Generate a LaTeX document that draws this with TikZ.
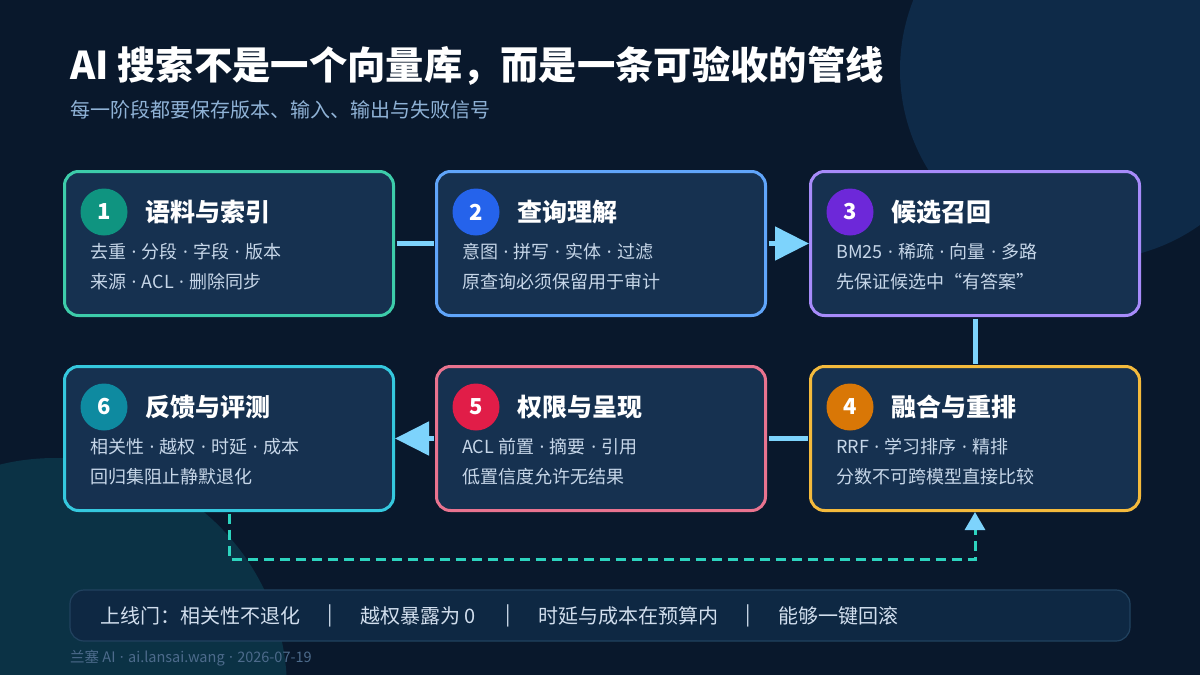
\documentclass[tikz,border=0pt]{standalone}
\usepackage{fontspec}
\setmainfont{Noto Sans CJK SC}
\newfontfamily\dotfont{Noto Sans}
\newcommand\md{{\dotfont\hspace{0.3em}·\hspace{0.3em}}}
\usetikzlibrary{positioning,arrows.meta,calc}
\definecolor{bgc}{HTML}{09182C}
\definecolor{blobA}{HTML}{0E2A48}
\definecolor{blobB}{HTML}{0B3245}
\definecolor{cardc}{HTML}{163150}
\definecolor{subc}{HTML}{C6D6E8}
\definecolor{dimc}{HTML}{8FB2D6}
\definecolor{linkc}{HTML}{7DD3FC}
\definecolor{fbc}{HTML}{2DD4BF}
\definecolor{barc}{HTML}{0E2843}
\definecolor{barline}{HTML}{21425F}
\definecolor{footc}{HTML}{4D6B8C}
% card borders / badges
\definecolor{bdA}{HTML}{3DCCAA}\definecolor{bgA}{HTML}{0F9480}
\definecolor{bdB}{HTML}{60A5FA}\definecolor{bgB}{HTML}{2563EB}
\definecolor{bdC}{HTML}{A78BFA}\definecolor{bgC}{HTML}{6D28D9}
\definecolor{bdD}{HTML}{F4BA3C}\definecolor{bgD}{HTML}{D97706}
\definecolor{bdE}{HTML}{E9738F}\definecolor{bgE}{HTML}{E11D48}
\definecolor{bdF}{HTML}{35C8DE}\definecolor{bgF}{HTML}{0E8AA0}
\tikzset{
  card/.style={draw=#1,line width=3pt,fill=cardc,rounded corners=14pt,
    minimum width=329pt,minimum height=144pt,anchor=north west,inner sep=0pt},
  badge/.style={circle,fill=#1,minimum size=47pt,inner sep=0pt,text=white,
    font=\fontsize{22}{26}\selectfont\bfseries},
  ttl/.style={anchor=west,inner sep=0pt,text=white,font=\fontsize{25}{30}\selectfont\bfseries},
  sub/.style={anchor=west,inner sep=0pt,text=subc,font=\fontsize{18}{22}\selectfont},
  link/.style={line width=5pt,linkc,shorten <=1.5pt,shorten >=1.5pt},
  linkarr/.style={link,shorten >=0pt,-{Triangle[length=34pt,width=33pt]}},
  fb/.style={line width=3pt,fbc,dash pattern=on 10pt off 6pt,shorten <=1.5pt,
    -{Triangle[length=18pt,width=20pt,color=linkc]}},
  gatebar/.style={draw=barline,line width=1.2pt,fill=barc,rounded corners=14pt,
    minimum width=1060pt,minimum height=51pt,inner sep=0pt},
  gate/.style={inner sep=0pt,text=subc!80!white,font=\fontsize{20}{24}\selectfont},
}

\begin{document}
\begin{tikzpicture}[x=1pt,y=-1pt]
  \useasboundingbox (0,0) rectangle (1200,675);
  % backdrop
  \fill[bgc] (0,0) rectangle (1200,675);
  \begin{scope}
    \clip (0,0) rectangle (1200,675);
    \fill[blobA] (1090,70) circle (190);
    \fill[blobB] (55,690) circle (232);
  \end{scope}

  % heading
  \node[anchor=west,inner sep=0pt,text=white,font=\fontsize{38.3}{44}\selectfont\bfseries]
    (title) at (70,66) {AI 搜索不是一个向量库，而是一条可验收的管线};
  \node[anchor=west,inner sep=0pt,text=dimc,font=\fontsize{20}{24}\selectfont]
    (subtitle) at (70,110) {每一阶段都要保存版本、输入、输出与失败信号};

  % stage cards
  \foreach \i/\x/\y/\bd/\bg/\head/\lna/\lnb in {
    1/63/170/bdA/bgA/语料与索引/去重\md 分段\md 字段\md 版本/来源\md ACL\md 删除同步,
    2/435/170/bdB/bgB/查询理解/意图\md 拼写\md 实体\md 过滤/原查询必须保留用于审计,
    3/809/170/bdC/bgC/候选召回/BM25\md 稀疏\md 向量\md 多路/先保证候选中“有答案”,
    4/809/365/bdD/bgD/融合与重排/RRF\md 学习排序\md 精排/分数不可跨模型直接比较,
    5/435/365/bdE/bgE/权限与呈现/ACL 前置\md 摘要\md 引用/低置信度允许无结果,
    6/63/365/bdF/bgF/反馈与评测/相关性\md 越权\md 时延\md 成本/回归集阻止静默退化}{
    \node[card=\bd] (c\i) at (\x,\y) {};
    \node[badge=\bg] (n\i) at ($(c\i.north west)+(41,42)$) {\i};
    \node[ttl] (t\i) at ($(c\i.north west)+(82,42)$) {\head};
    \node[sub] (la\i) at ($(c\i.north west)+(27,82)$) {\lna};
    \node[sub] (lb\i) at ($(c\i.north west)+(27,112)$) {\lnb};
  }

  % flow between stages
  \draw[link] (c1.east) -- (c2.west);
  \draw[linkarr] (c2.east) -- (c3.west);
  \draw[link] (c3.south) -- (c4.north);
  \draw[link] (c4.west) -- (c5.east);
  \draw[linkarr] (c5.west) -- (c6.east);
  \draw[fb] (c6.south) -- ++(0,47) -| (c4.south); % feedback loop

  % release gate
  \node[gatebar] (bar) at (600,615.5) {};
  \foreach \gx/\gtxt [count=\k] in {100/上线门：相关性不退化,360/越权暴露为 0,
    538/时延与成本在预算内,778/能够一键回滚}{
    \node[gate,anchor=west] (g\k) at (\gx,615.5) {\gtxt};
  }
  \foreach \sx [count=\k] in {330,508,748}{
    \node[gate] (s\k) at (\sx,615.5) {|};
  }

  \node[anchor=west,inner sep=0pt,text=footc,font=\fontsize{14.5}{17}\selectfont]
    (foot) at (70,658) {兰塞 AI\md ai.lansai.wang\md 2026-07-19};
\end{tikzpicture}
\end{document}
